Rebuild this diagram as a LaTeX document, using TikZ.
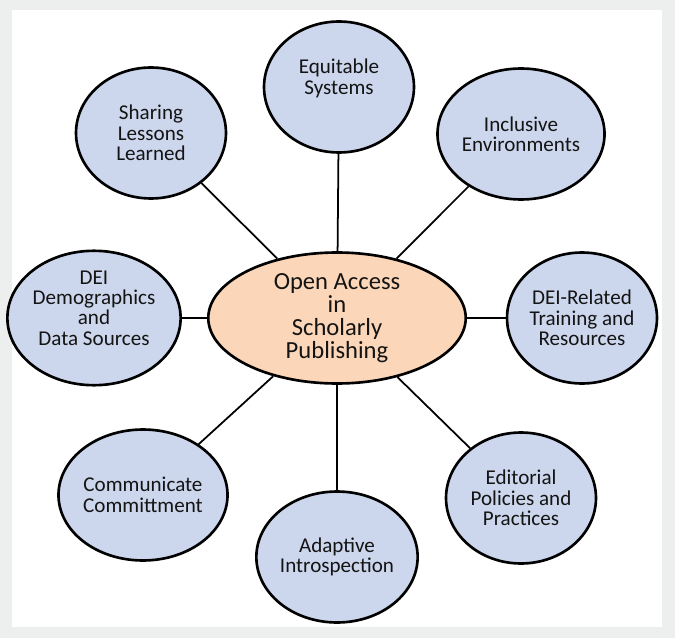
\documentclass[tikz,border=0pt]{standalone}
\usepackage{fontspec}
\setmainfont{Carlito}
\usetikzlibrary{shapes.geometric}
\definecolor{framegray}{RGB}{237,239,239}
\definecolor{topicblue}{RGB}{204,214,236}
\definecolor{corepeach}{RGB}{251,214,184}
\definecolor{inkblack}{RGB}{20,20,20}
\begin{document}
\begin{tikzpicture}[x=0.02cm,y=-0.02cm,
  topic/.style={ellipse,draw=black,line width=1.5pt,fill=topicblue,text=inkblack,
    minimum width=3cm,minimum height=2.62cm,inner sep=0pt,align=center,
    font=\fontsize{12}{11.6}\selectfont},
  core/.style={topic,fill=corepeach,minimum width=5.15cm,minimum height=2.62cm,
    font=\fontsize{14}{13}\selectfont},
  spoke/.style={line width=1pt}]
\fill[framegray] (0,0) rectangle (675,638);
\fill[white] (12,10) rectangle (662,627);
% centre
\node[core] (oa) at (337,318) {Open Access\\in\\Scholarly\\Publishing};
% topics around it
\node[topic] (equit) at (339,87) {Equitable\\Systems\\\mbox{}};
\node[topic] (incl) at (521,134) {Inclusive\\Environments};
\node[topic] (train) at (582,318) {DEI-Related\\Training and\\Resources};
\node[topic] (edit) at (521,498) {Editorial\\Policies and\\Practices};
\node[topic] (adapt) at (337,557) {Adaptive\\Introspection};
\node[topic] (comm) at (143,495) {Communicate\\Committment};
\node[topic] (demo) at (94,318) {DEI\\Demographics\\and\\Data Sources\\\mbox{}};
\node[topic] (share) at (151,133) {Sharing\\Lessons\\Learned};
% spokes
\foreach \t in {equit,incl,train,edit,adapt,comm,demo,share}
  \draw[spoke] (oa) -- (\t);
\end{tikzpicture}
\end{document}
